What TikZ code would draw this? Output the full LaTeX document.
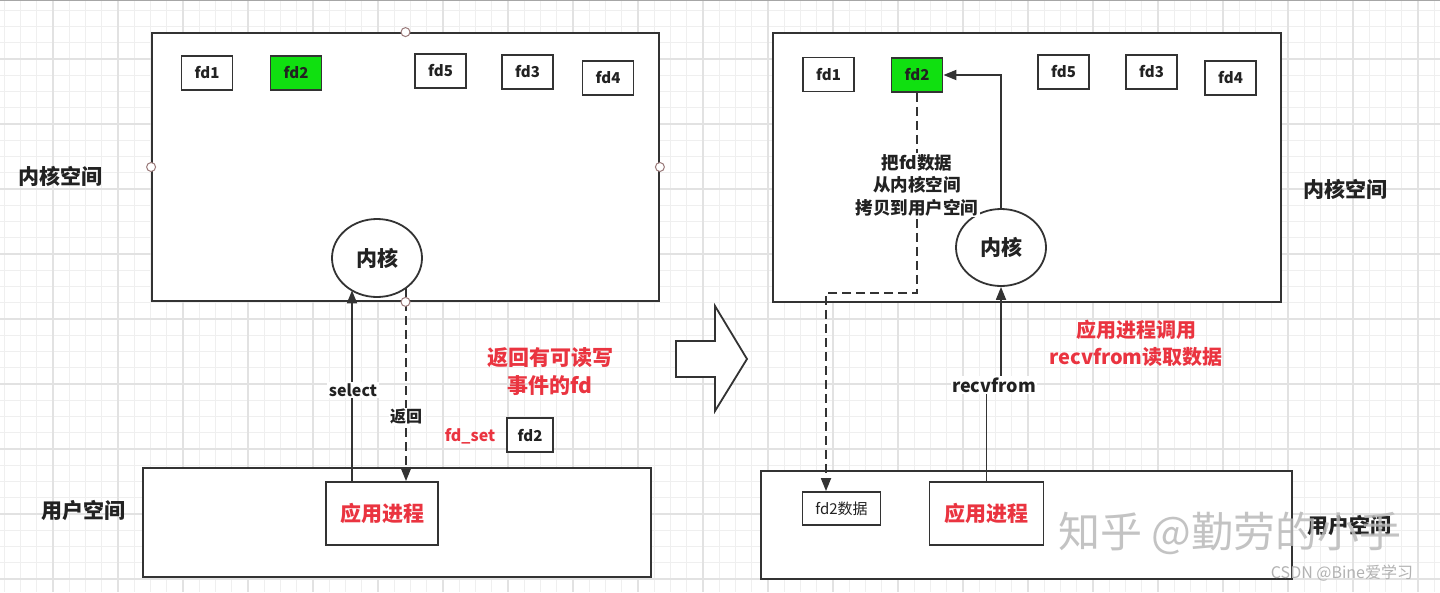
\documentclass[tikz,border=0pt]{standalone}
\usepackage{fontspec}
\setmainfont{Noto Sans CJK SC}
\usetikzlibrary{arrows.meta,shapes.geometric,calc}
\definecolor{linec}{HTML}{333333}
\definecolor{txt}{HTML}{222222}
\definecolor{redt}{HTML}{EA3440}
\definecolor{greenf}{HTML}{10E010}
\definecolor{gminor}{HTML}{EFEFEF}
\definecolor{gmajor}{HTML}{E2E2E2}
\definecolor{handle}{HTML}{9A7A7A}
\tikzset{
  ln/.style={draw=linec, line width=1.8pt},
  bx/.style={ln, rectangle, inner sep=0pt, fill=white},
  fdbox/.style={bx, minimum width=51pt, minimum height=34pt, font=\bfseries\fontsize{15}{18}\selectfont, text=txt},
  ell/.style={ln, ellipse, inner sep=0pt, fill=white, minimum width=90pt, minimum height=78pt, font=\bfseries\fontsize{21}{24}\selectfont, text=txt},
  appbox/.style={bx, minimum width=112pt, minimum height=63pt, font=\bfseries\fontsize{21}{24}\selectfont, text=redt},
  arr/.style={draw=linec, line width=1.8pt, -{Triangle[length=13pt,width=10pt]}},
  darr/.style={arr, dash pattern=on 9pt off 5pt},
  lbl/.style={fill=white, inner sep=1.5pt, text=txt, font=\bfseries\fontsize{16}{19}\selectfont},
  space/.style={text=txt, font=\bfseries\fontsize{21}{24}\selectfont, inner sep=0pt},
  redlbl/.style={text=redt, font=\bfseries\fontsize{21}{28}\selectfont, align=center, inner sep=0pt},
  hdl/.style={circle, draw=handle, fill=white, line width=1pt, minimum size=9pt, inner sep=0pt},
}
\begin{document}
\begin{tikzpicture}[x=1pt,y=-1pt]
\useasboundingbox (0,0) rectangle (1440,592);
\fill[white] (0,0) rectangle (1440,592);
% grid
\foreach \i in {-3,...,88} {
  \draw[gminor, line width=1pt] (53+16.25*\i,0) -- (53+16.25*\i,592);
}
\foreach \i in {-3,...,36} {
  \draw[gminor, line width=1pt] (0,59+16.25*\i) -- (1440,59+16.25*\i);
}
\foreach \i in {0,...,22} {
  \draw[gmajor, line width=1.2pt] (53+65*\i,0) -- (53+65*\i,592);
}
\foreach \i in {-1,...,9} {
  \draw[gmajor, line width=1.2pt] (0,59+65*\i) -- (1440,59+65*\i);
}
\draw[gray!70, line width=1.5pt] (0,0.5) -- (1440,0.5);

% ---------------- left half ----------------
\node[bx, minimum width=507pt, minimum height=268pt] (kspL) at (405.5,167) {};
\node[bx, minimum width=508pt, minimum height=109pt] (uspL) at (397,522.5) {};

\node[fdbox] (fd1L) at (207,73) {fd1};
\node[fdbox, fill=greenf] (fd2L) at (296,73) {fd2};
\node[fdbox] (fd5L) at (440.5,71) {fd5};
\node[fdbox] (fd3L) at (527.5,72) {fd3};
\node[fdbox] (fd4L) at (608,78) {fd4};

\node[ell] (kerL) at (377,258) {内核};
\node[appbox] (appL) at (382,513.5) {应用进程};

\draw[arr] ($(appL.north)+(-30,0)$) -- ($(kerL.center)+(-25,32.4)$);
\draw[darr] ($(kerL.center)+(29,30)$) -- ($(appL.north)+(24,0)$);
\node[lbl] (selL) at (353,390) {select};
\node[lbl] (retL) at (406,417) {返回};

\node[hdl] (h1) at (kspL.north) {};
\node[hdl] (h2) at (kspL.west) {};
\node[hdl] (h3) at (kspL.east) {};
\node[hdl] (h4) at (kspL.south) {};

\node[space] (kLabL) at (61,176) {内核空间};
\node[space] (uLabL) at (83,510) {用户空间};

\node[redlbl] (redL) at (550,372) {返回有可读写\\事件的fd};
\node[text=redt, font=\bfseries\fontsize{16}{19}\selectfont, inner sep=0pt] (fdset) at (470,436) {fd\_set};
\node[fdbox, minimum width=46pt] (fdsetbox) at (530,435) {fd2};

% ---------------- middle arrow ----------------
\draw[ln, fill=white, line join=miter] (676,341) -- (715,341) -- (715,306) -- (747,359) -- (715,411) -- (715,377) -- (676,377) -- cycle;

% ---------------- right half ----------------
\node[bx, minimum width=508pt, minimum height=269pt] (kspR) at (1027,167.5) {};
\node[bx, minimum width=531pt, minimum height=108pt] (uspR) at (1026.5,525) {};

\node[fdbox] (fd1R) at (828.5,74.5) {fd1};
\node[fdbox, fill=greenf] (fd2R) at (917,75) {fd2};
\node[fdbox] (fd5R) at (1063.5,72) {fd5};
\node[fdbox] (fd3R) at (1151.5,72) {fd3};
\node[fdbox] (fd4R) at (1230.5,78) {fd4};

\node[ell, minimum height=77pt] (kerR) at (1001,247.5) {内核};
\node[appbox, minimum width=114pt] (appR) at (986.5,513.5) {应用进程};
\node[bx, minimum width=78pt, minimum height=33pt, font=\fontsize{15}{18}\selectfont, text=txt] (fd2dR) at (841.5,508.5) {fd2数据};

\draw[arr] (kerR.north) |- (fd2R.east);
\draw[darr] (fd2R.south) -- (917,293) -| ($(fd2dR.north)+(-15.5,0)$);
\node[fill=white, inner sep=1.5pt, text=txt, align=center, font=\bfseries\fontsize{17.5}{22.5}\selectfont] (copyR) at (917,185) {把fd数据\\从内核空间\\拷贝到用户空间};

\draw[arr] (appR.north) -- (986.5,385) -| (kerR.south);
\node[lbl, font=\bfseries\fontsize{18}{21}\selectfont] (recvR) at (994,385) {recvfrom};

\node[redlbl, font=\bfseries\fontsize{20}{27}\selectfont] (redR) at (1136,343) {应用进程调用\\recvfrom读取数据};

\node[space] (kLabR) at (1345,189) {内核空间};
\node[space] (uLabR) at (1349,525) {用户空间};

% watermarks
\node[text=gray!55, opacity=0.85, font=\fontsize{42}{46}\selectfont, inner sep=0pt] (wm1) at (1230,533) {知乎 @勤劳的小手};
\node[text=gray!60, font=\fontsize{16}{19}\selectfont, inner sep=0pt] (wm2) at (1342,573) {CSDN @Bine爱学习};
\end{tikzpicture}
\end{document}
